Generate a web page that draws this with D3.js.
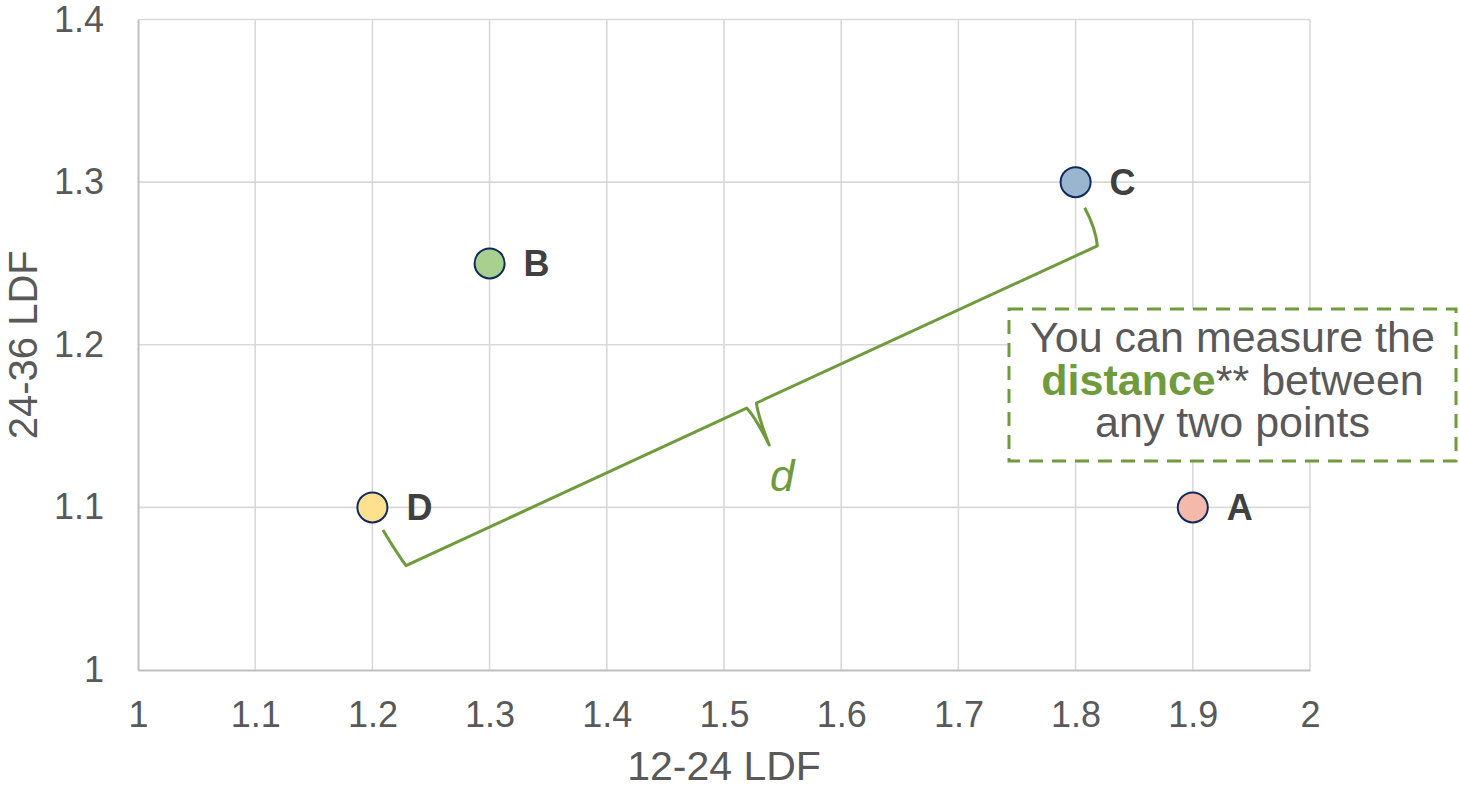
<!DOCTYPE html>
<html>
<head>
<meta charset="utf-8">
<script src="https://cdn.jsdelivr.net/npm/d3@7"></script>
<style>
  html, body { margin: 0; padding: 0; background: #fff; }
  svg { display: block; font-family: "Liberation Sans", Arial, sans-serif; }
</style>
</head>
<body>
<svg id="chart" width="1459" height="789"></svg>
<script>
// Points on the 12-24 vs 24-36 development-factor plane
const pointNames = ["A", "B", "C", "D"];
const ldf12to24 = [1.9, 1.3, 1.8, 1.2];
const ldf24to36 = [1.1, 1.25, 1.3, 1.1];
const pointFills = ["#f4b9ab", "#a9d08e", "#9ab6cf", "#ffe08f"];

const xTicks = [1, 1.1, 1.2, 1.3, 1.4, 1.5, 1.6, 1.7, 1.8, 1.9, 2];
const yTicks = [1, 1.1, 1.2, 1.3, 1.4];

const xTitle = "12-24 LDF";
const yTitle = "24-36 LDF";
const noteLines = [
  [{ t: "You can measure the" }],
  [{ t: "distance", bold: true, green: true }, { t: "** between" }],
  [{ t: "any two points" }]
];
const braceLabel = "d";

// brace between these two points
const braceFrom = "D";
const braceTo = "C";

const W = 1459, H = 789;
const plot = { left: 138, right: 1310, top: 19.5, bottom: 670 };
const green = "#6f9b3c";
const tickColor = "#595959";

const svg = d3.select("#chart");

const x = d3.scaleLinear().domain([1, 2]).range([plot.left, plot.right]);
const y = d3.scaleLinear().domain([1, 1.4]).range([plot.bottom, plot.top]);

// gridlines
const grid = svg.append("g");
grid.selectAll("line.vx").data(xTicks.slice(1)).join("line")
  .attr("x1", d => x(d)).attr("x2", d => x(d))
  .attr("y1", plot.top).attr("y2", plot.bottom)
  .attr("stroke", "#d9d9d9").attr("stroke-width", 1.6);
grid.selectAll("line.hy").data(yTicks.slice(1)).join("line")
  .attr("x1", plot.left).attr("x2", plot.right)
  .attr("y1", d => y(d)).attr("y2", d => y(d))
  .attr("stroke", "#d9d9d9").attr("stroke-width", 1.6);

// axes
const xAxis = svg.append("g")
  .attr("transform", `translate(0,${plot.bottom})`)
  .call(d3.axisBottom(x).tickValues(xTicks).tickFormat(d3.format("")).tickSize(0).tickPadding(31));
const yAxis = svg.append("g")
  .attr("transform", `translate(${plot.left},0)`)
  .call(d3.axisLeft(y).tickValues(yTicks).tickFormat(d3.format("")).tickSize(0).tickPadding(34));
[xAxis, yAxis].forEach(g => {
  g.select(".domain").attr("stroke", "#bfbfbf").attr("stroke-width", 2);
  g.selectAll("text").attr("fill", tickColor)
    .style("font-size", "36px").style("font-family", "'Liberation Sans', Arial, sans-serif");
});

// axis titles
svg.append("text")
  .attr("x", (plot.left + plot.right) / 2).attr("y", 780)
  .attr("text-anchor", "middle").attr("fill", tickColor)
  .style("font-size", "41px").text(xTitle);
svg.append("text")
  .attr("transform", `translate(37,${(plot.top + plot.bottom) / 2}) rotate(-90)`)
  .attr("text-anchor", "middle").attr("fill", tickColor)
  .style("font-size", "40px").text(yTitle);

// brace drawn in a frame running from one point towards the other
const pts = pointNames.map((n, i) => ({ name: n, x: ldf12to24[i], y: ldf24to36[i], fill: pointFills[i] }));
const pA = pts.find(p => p.name === braceFrom);
const pB = pts.find(p => p.name === braceTo);
const ax = x(pA.x), ay = y(pA.y), bx = x(pB.x), by = y(pB.y);
const L = Math.hypot(bx - ax, by - ay);
const ang = Math.atan2(by - ay, bx - ax);
const m = L / 2;
const braceD = [
  `M0,25`,
  `Q3,52 6,67`,
  `L${m - 6},67`,
  `Q${m - 2},78 ${m - 1},110`,
  `Q${m + 1},78 ${m + 5},66.5`,
  `L${L - 7},67`,
  `Q${L - 1},50 ${L - 2.5},27`
].join(" ");
svg.append("path")
  .attr("transform", `translate(${ax},${ay}) rotate(${ang * 180 / Math.PI})`)
  .attr("d", braceD)
  .attr("fill", "none").attr("stroke", green).attr("stroke-width", 3)
  .attr("stroke-linejoin", "round").attr("stroke-linecap", "butt");

// brace label under the tip
const tipX = ax + Math.cos(ang) * m - Math.sin(ang) * 110;
const tipY = ay + Math.sin(ang) * m + Math.cos(ang) * 110;
svg.append("text")
  .attr("x", tipX + 12).attr("y", tipY + 46)
  .attr("text-anchor", "middle").attr("fill", green)
  .style("font-size", "44px").style("font-style", "italic")
  .text(braceLabel);

// points
svg.append("g").selectAll("circle").data(pts).join("circle")
  .attr("cx", d => x(d.x)).attr("cy", d => y(d.y)).attr("r", 15)
  .attr("fill", d => d.fill).attr("stroke", "#102a5c").attr("stroke-width", 2);
svg.append("g").selectAll("text").data(pts).join("text")
  .attr("x", d => x(d.x) + 34).attr("y", d => y(d.y) + 13)
  .attr("fill", "#404040").style("font-size", "36px").style("font-weight", "bold")
  .text(d => d.name);

// callout box
const box = { x: 1009, y: 309, w: 447, h: 152 };
svg.append("rect")
  .attr("x", box.x).attr("y", box.y).attr("width", box.w).attr("height", box.h)
  .attr("fill", "#fff").attr("stroke", green).attr("stroke-width", 3)
  .attr("stroke-dasharray", "14,9");
const note = svg.append("text")
  .attr("text-anchor", "middle").attr("fill", tickColor)
  .style("font-size", "43px");
const baselines = [352, 395, 437];
noteLines.forEach((line, i) => {
  line.forEach((seg, j) => {
    const ts = note.append("tspan").text(seg.t);
    if (j === 0) ts.attr("x", box.x + box.w / 2).attr("y", baselines[i]);
    if (seg.bold) ts.style("font-weight", "bold");
    if (seg.green) ts.attr("fill", green);
  });
});
</script>
</body>
</html>
